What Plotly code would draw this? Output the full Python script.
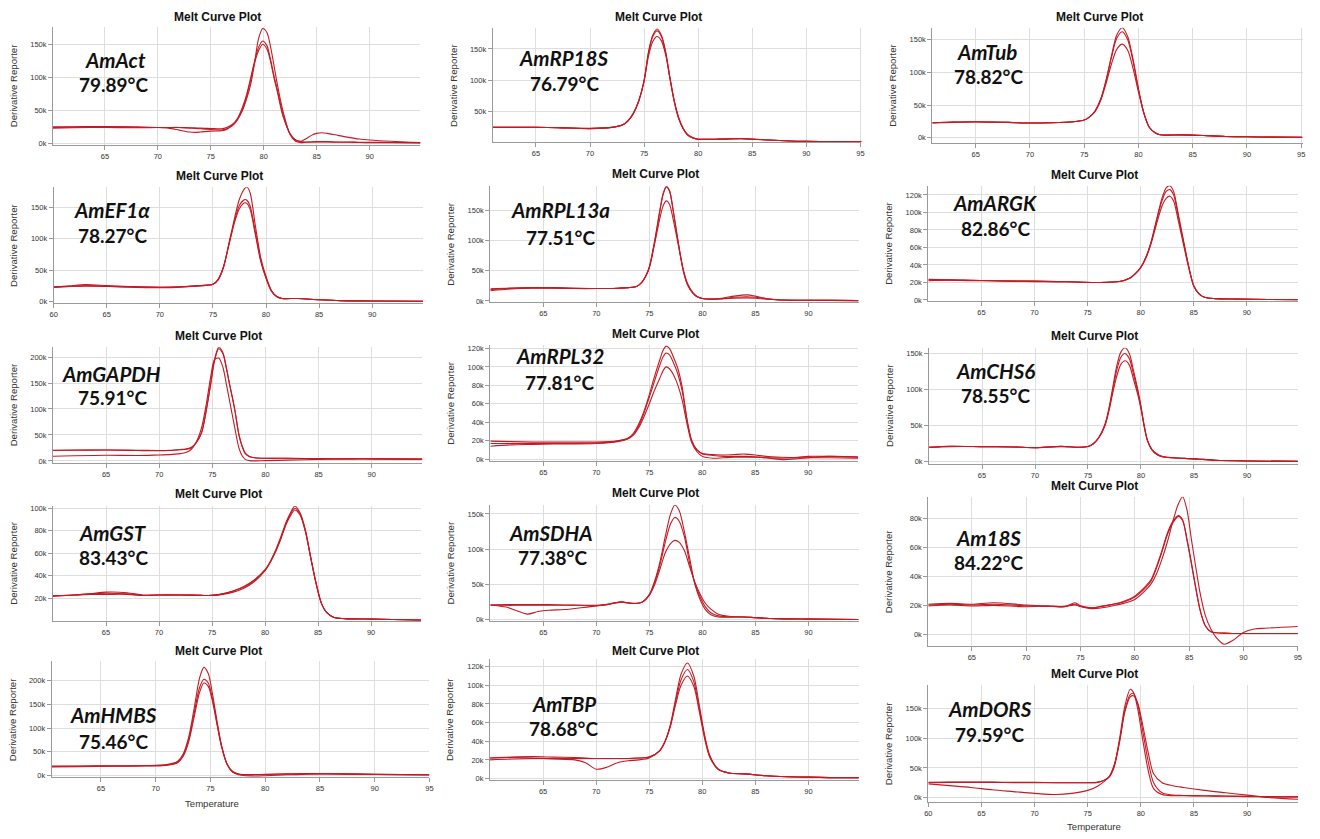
import plotly.graph_objects as go

W, H = 1320, 839

# ---------------- data (Derivative Reporter, thousands) ----------------
act_t = [60.1, 62, 65, 68, 70, 71, 72, 73, 73.5, 74, 75, 76, 76.5, 77, 77.5, 78, 78.4, 78.75, 79.1, 79.5, 79.9, 80.3, 80.6, 81, 81.3, 81.8, 82.5, 83, 83.5, 84, 84.5, 85, 85.5, 86, 87, 88, 89, 90, 92, 94.8]
act_a = [24, 24.5, 25, 24.5, 24, 24, 24, 23.5, 23.5, 23, 22.5, 22, 24, 28, 36, 50, 68, 88, 118, 158, 174, 168, 150, 115, 88, 50, 13, 3, 1, 1.5, 2, 2.5, 2.5, 2.5, 2, 2, 1.5, 1.5, 1.2, 1]
act_b = [25, 25, 25.5, 24.5, 24, 23, 20, 17, 16.5, 17, 18.5, 19, 21, 27, 37, 55, 75, 98, 122, 145, 155, 148, 130, 100, 80, 45, 14, 5, 3, 7, 12, 15, 16, 15, 12, 9, 6.5, 5, 3, 1]
act_c = [23, 23.5, 24, 23.5, 24, 24, 24, 23, 22.5, 22, 21, 20, 22, 26, 35, 52, 72, 95, 120, 140, 150, 143, 127, 97, 77, 42, 14, 5, 2.5, 2, 2, 2, 2, 2, 1.5, 1.5, 1.2, 1, 0.8, 0.5]

rp18_t = [61, 63, 65, 67, 70, 72, 73, 73.5, 74, 74.5, 75, 75.4, 75.8, 76.2, 76.6, 77, 77.4, 77.8, 78.2, 78.6, 79, 79.5, 80, 82, 84, 86, 88, 90, 95.1]
rp18_a = [24, 24, 24, 23.5, 22, 24, 28, 34, 46, 66, 100, 145, 172, 182, 172, 145, 103, 65, 38, 22, 12, 7, 5, 5, 6, 4, 2.5, 1.5, 1]
rp18_b = [24, 24, 24, 23.5, 22, 24, 28, 34, 46, 66, 99, 143, 170, 179, 170, 143, 101, 64, 38, 22, 12, 7, 5, 5, 6, 4, 2.5, 1.5, 1]
rp18_c = [24, 24, 24, 23.5, 22.5, 24, 28, 35, 47, 67, 98, 138, 162, 170, 163, 140, 102, 66, 40, 23, 13, 7.5, 5, 5, 5.5, 4, 2.5, 1.5, 1]

tub_t = [61, 63, 65, 68, 70, 72, 74, 75, 75.5, 76, 76.5, 77, 77.5, 78, 78.5, 79, 79.5, 80, 80.5, 81, 81.5, 82, 84, 86, 88, 90, 92, 95.1]
tub_a = [23, 24, 24.5, 23.5, 22.5, 23, 24.5, 27, 32, 41, 58, 87, 124, 157, 168, 155, 120, 75, 38, 16, 8, 4.5, 4.5, 3.5, 2, 1.5, 1, 0.8]
tub_b = [23, 24, 24.5, 23.5, 22.5, 23, 24.5, 27, 32, 41, 58, 86, 122, 152, 162, 150, 117, 74, 38, 16, 8, 4.5, 4.5, 3.5, 2, 1.5, 1, 0.8]
tub_c = [22.5, 23.5, 24, 23.5, 22.5, 23, 24.5, 27, 32, 40, 56, 82, 112, 135, 143, 134, 106, 70, 37, 16, 8, 4.5, 4.5, 3.5, 2, 1.5, 1, 0.8]

ef1_t = [60, 61.5, 63, 65, 67, 70, 72, 73.5, 75, 75.5, 76, 76.5, 77, 77.5, 78, 78.2, 78.5, 79, 79.5, 80, 80.5, 81, 81.5, 83, 85, 87, 90, 94.8]
ef1_a = [23, 24, 25, 24, 23.5, 23, 23.5, 25, 27.5, 35, 55, 92, 130, 163, 180, 182, 173, 120, 70, 40, 18, 8, 5, 5, 3, 1.5, 1, 0.5]
ef1_b = [23, 25, 27, 25.5, 24, 22.5, 23.5, 25, 27.5, 35, 55, 90, 126, 153, 162, 161, 152, 110, 66, 38, 17, 8, 5, 5, 3, 1.5, 1, 0.5]
ef1_c = [23, 24, 25, 24.5, 23, 22, 23, 25, 27.5, 36, 56, 90, 124, 148, 157, 156, 147, 106, 64, 37, 17, 8, 5, 5, 3, 1.5, 1, 0.5]

rpl13_t = [60, 62, 64, 66, 68, 70, 72, 73, 73.8, 74.3, 74.7, 75, 75.5, 76, 76.3, 76.6, 76.9, 77.25, 77.7, 78.2, 78.6, 79.1, 79.5, 80, 81, 82, 83, 84.2, 85, 86, 87, 89, 92, 94.7]
rpl13_a = [20, 21.5, 22, 21.5, 21, 20.5, 21, 22, 24, 31, 43, 57, 100, 152, 178, 190, 183, 150, 100, 50, 27, 13, 7, 4, 3, 4, 6, 7, 6, 3.5, 2, 1.2, 1, 0.5]
rpl13_b = [17, 20, 21, 21, 20.5, 20.5, 21, 22, 24, 31, 43, 56, 98, 150, 177, 189, 182, 149, 99, 50, 27, 13, 7, 4, 3, 5, 8, 10, 8, 4, 2, 1.2, 1, 0.5]
rpl13_c = [19, 21, 22, 22, 21, 20.5, 21, 22, 24, 31, 42, 55, 95, 138, 158, 166, 160, 135, 95, 52, 29, 14, 7.5, 4, 3, 3.5, 4.5, 5, 4.5, 3, 2, 1.2, 1, 0.5]

argk_t = [60, 62, 64, 66, 68, 70, 72, 74, 76, 78, 79, 79.5, 80, 80.5, 81, 81.5, 82, 82.4, 82.75, 83.1, 83.5, 84, 84.5, 85, 85.5, 86, 87, 89, 92, 94.8]
argk_a = [23.5, 23, 22.5, 22, 21.5, 21.5, 21, 20.5, 20, 21, 25, 30, 37, 49, 67, 92, 116, 128, 130.5, 124, 101, 70, 40, 16, 7, 3, 1.5, 1, 0.6, 0.3]
argk_b = [22.5, 23, 22.5, 22, 21.5, 21.5, 21, 20.5, 20, 21, 25, 30, 37, 49, 67, 91, 113, 124, 126, 120, 98, 68, 39, 16, 7, 3, 1.5, 1, 0.6, 0.3]
argk_c = [22, 22.5, 22, 22, 21.5, 21, 21, 20.5, 20, 21, 25, 30, 37, 48, 65, 87, 107, 116, 118.5, 113, 93, 65, 38, 16, 7, 3, 1.5, 1, 0.6, 0.3]

gapdh_t = [60, 62, 65, 68, 70, 71, 72, 72.5, 73, 73.5, 74, 74.45, 74.85, 75.2, 75.6, 76, 76.3, 76.6, 77.1, 77.5, 77.8, 78.1, 78.5, 79, 80, 82, 85, 88, 90, 94.8]
gapdh_a = [20, 20.5, 21, 20, 19.5, 20, 21.5, 22.5, 25, 35, 55, 100, 150, 195, 219, 208, 182, 150, 100, 50, 28, 14, 8, 6, 5, 5, 4.5, 4, 4, 3.5]
gapdh_b = [20.5, 21, 21, 20.5, 20, 20.5, 22, 23, 26, 36, 56, 100, 148, 192, 216, 206, 180, 150, 100, 51, 29, 15, 8.5, 6, 5, 5, 4.5, 4, 4, 3.5]
gapdh_c = [9, 10, 11, 10.5, 11.5, 12, 14, 16, 22, 37, 65, 112, 163, 195, 198, 180, 150, 118, 65, 25, 10, 3, 0.5, 0, 0.5, 1.5, 3, 3.5, 3.5, 3]

rpl32_t = [60, 62, 64, 66, 68, 70, 72, 73, 73.5, 74, 74.5, 75, 75.5, 76, 76.3, 76.6, 76.9, 77.3, 77.7, 78.1, 78.6, 79, 79.5, 80, 81, 82, 83, 84, 85, 86, 87.5, 89, 90, 92, 94.7]
rpl32_a = [19.5, 19, 18.5, 18.5, 18.5, 18.5, 20, 23, 28, 38, 52, 70, 90, 108, 118, 122.5, 120, 110, 98, 78, 40, 20, 10, 6, 5, 4.5, 5, 5.5, 4.5, 3, 2, 1.5, 1.5, 1.5, 1]
rpl32_b = [17, 17, 17, 17, 17, 17.5, 19.5, 22.5, 27, 36, 50, 67, 85, 102, 111, 115, 113, 104, 92, 74, 40, 20, 10, 6, 4, 3, 3, 3, 2.5, 1.5, -0.5, 0.5, 1.5, 3, 2]
rpl32_c = [14, 15.5, 16, 16.5, 16.5, 17, 19, 22, 26, 34, 46, 60, 75, 88, 96, 100, 98, 91, 80, 64, 36, 18, 8, 3, 1, 1.5, 2, 2, 2, 1.5, 1, 2, 3, 3, 2.5]

chs6_t = [60, 62, 65, 68, 70, 72.5, 74, 75, 75.5, 76, 76.6, 77, 77.3, 77.7, 78.1, 78.5, 78.9, 79.3, 79.7, 80, 80.3, 80.6, 81, 81.5, 82, 83, 85, 87, 90, 94.8]
chs6_a = [20, 21.5, 21, 20.5, 19.5, 21.5, 20, 21, 25, 33, 52, 76, 100, 132, 152, 158, 150, 126, 100, 77, 50, 30, 17, 10, 7, 5.5, 4, 2, 1, 0.5]
chs6_b = [20, 21.5, 21, 20.5, 19.5, 21.5, 20, 21, 25, 33, 51, 74, 97, 126, 145, 150, 143, 121, 97, 75, 50, 30, 17, 10, 7, 5.5, 4, 2, 1, 0.5]
chs6_c = [20, 21, 21, 20.5, 19.5, 21, 20, 21, 25, 33, 50, 72, 93, 118, 135, 140, 134, 114, 93, 73, 49, 30, 18, 11, 7.5, 5.5, 4, 2, 1, 0.5]

gst_t = [60, 62, 63.5, 65, 67, 68.5, 70, 72, 74, 75, 76, 77, 78, 79, 80, 80.5, 81, 81.5, 82, 82.4, 82.8, 83.3, 83.8, 84.3, 84.8, 85.3, 85.8, 86.5, 87.5, 90, 92, 94.7]
gst_a = [22, 23, 24, 25.5, 25, 23, 23, 23, 22.6, 22.6, 24, 26.5, 30.5, 36.5, 45.5, 53, 63, 75, 88, 96, 102, 96, 81, 57, 34, 16, 7.5, 3, 2, 1.5, 1.2, 0.6]
gst_b = [22, 23, 23.5, 23.5, 23.5, 22.5, 23, 23, 22.6, 22.6, 24, 26.5, 30, 36, 45, 52.5, 62, 74, 87, 95, 100, 95, 80, 56.5, 34, 16, 7.5, 3, 2, 1.5, 1.2, 0.6]
gst_c = [22.5, 23, 24, 24.5, 24, 22.5, 23, 23, 22.6, 22.6, 23.5, 25.5, 29, 35, 44.5, 52, 61.5, 73, 86, 93.5, 98.5, 94, 79.5, 56, 33.5, 16, 7.5, 3, 2, 1.5, 1.2, 0.6]

sdha_t = [60, 61.5, 62.5, 63.5, 64.5, 65.5, 67, 68.5, 70, 71, 72.3, 73.5, 74.3, 75, 75.5, 76, 76.5, 77, 77.4, 77.8, 78.3, 78.8, 79.3, 79.8, 80.3, 80.8, 81.5, 82.5, 84, 85, 87, 90, 94.7]
sdha_a = [21, 21.5, 21.5, 21.5, 21.5, 21.5, 21, 20.5, 20, 21.5, 25.5, 23, 25, 36, 55, 82, 118, 150, 162.5, 155, 125, 87, 50, 28, 14, 7, 4, 3.7, 4, 3, 1.6, 1, 0.5]
sdha_b = [21, 20.5, 20.5, 20.5, 20.5, 20.5, 20.5, 20.5, 20.5, 21.5, 25, 23, 25, 35, 53, 78, 110, 136, 145, 140, 118, 80, 51, 32, 18, 10, 5.5, 4, 4, 3, 1.6, 1, 0.5]
sdha_c = [21, 18, 12.7, 8, 11.7, 13.6, 14.5, 17, 19.7, 22, 25, 23.5, 25, 35, 50, 72, 95, 108, 112.5, 110, 98, 75, 53, 36, 23, 15, 8, 5, 4, 3, 1.6, 1, 0.5]

s18_t = [61, 63, 65, 67, 70, 72, 73.5, 74.5, 75, 76, 77, 78, 79, 80, 81, 81.5, 82, 82.5, 83, 83.5, 84, 84.4, 84.8, 85.2, 85.6, 86, 86.5, 87, 87.5, 88.2, 89, 90, 91, 92, 95]
s18_a = [20.5, 21, 20.5, 21, 20, 19.5, 19.5, 21, 19.5, 18, 18.6, 20, 21.6, 24.3, 30.7, 35, 42, 52, 64, 78, 90, 95, 86, 66, 47, 29, 13, 3.9, -2, -6.5, -4, 1.6, 3.9, 4.5, 5.7]
s18_b = [21, 21.6, 21, 22, 20.5, 19.8, 19.3, 22, 20, 18.5, 19.8, 21, 23, 26.6, 33.4, 38, 47, 58, 70, 78, 82, 79, 66, 50, 33, 17.5, 6, 2, 1.4, 1.1, 0.9, 0.9, 0.9, 0.9, 0.9]
s18_c = [19.8, 20.5, 19.8, 20.2, 19.3, 19.8, 19.3, 20.5, 19.5, 18.5, 19.5, 21, 22.5, 26, 32.5, 37, 46, 57, 69, 77, 81.5, 78.5, 65, 49, 32, 17, 6, 2, 1.4, 1.1, 0.9, 0.9, 0.9, 0.9, 0.9]

hmbs_t = [60.5, 63, 66, 69, 71, 72, 72.5, 73, 73.5, 74, 74.4, 74.8, 75.2, 75.6, 76, 76.5, 77, 77.5, 78, 79, 80, 82, 84, 87, 90, 95]
hmbs_a = [20, 20, 20.5, 21, 23, 30, 45, 80, 140, 205, 228, 215, 170, 115, 65, 25, 8, 2, 0, -1, -0.5, 1.5, 3, 3, 2, 1]
hmbs_b = [19, 19.5, 20, 20.5, 22, 28, 42, 75, 130, 185, 203, 195, 160, 110, 63, 25, 8, 3, 1.5, 1.5, 2, 3, 4, 3.5, 2.5, 1.5]
hmbs_c = [18, 18.5, 19.5, 20, 21.5, 27, 40, 70, 122, 175, 195, 188, 155, 108, 62, 25, 9, 3.5, 2, 2, 2.5, 3.5, 4, 3.5, 2.5, 1.5]

tbp_t = [60, 62, 64, 66, 68, 69, 70, 71, 72, 73, 74, 75, 76, 76.5, 77, 77.5, 78, 78.6, 79.2, 79.7, 80.2, 80.7, 81.5, 82.5, 84, 86, 88, 90, 92, 94.75]
tbp_a = [22, 22.5, 22, 21, 20, 17, 10, 12, 17, 19, 20, 22, 30, 40, 58, 86, 112, 124, 110, 80, 48, 25, 10, 6, 5, 3, 2, 1.5, 1, 1]
tbp_b = [20, 21, 21.5, 21.5, 21.5, 21.5, 21.5, 21.5, 21.5, 21.5, 22, 23, 30, 40, 57, 83, 106, 117, 104, 76, 46, 24, 10, 6, 5, 3, 2, 1.5, 1, 1]
tbp_c = [22, 23, 23.5, 23, 22.5, 22, 21.5, 21.5, 21.5, 21.5, 22, 23, 30, 40, 56, 80, 100, 110, 99, 73, 44, 23, 10, 6, 5, 3, 2, 1.5, 1, 1]

dors_t = [60, 62, 64, 66, 68, 70, 72, 73.5, 75, 76, 77, 77.5, 78, 78.5, 79, 79.3, 79.7, 80.2, 80.7, 81.2, 82, 83, 84, 86, 88, 90, 92, 94.8]
dors_a = [25, 25.5, 25.5, 25.5, 25, 25, 25, 25, 25, 26, 35, 55, 100, 155, 183, 178, 150, 95, 45, 15, 5, 3, 3, 2.5, 2, 1.5, 1, 1]
dors_b = [25.5, 26, 26, 26, 25.5, 25.5, 25, 25, 25, 26, 34, 52, 95, 148, 174, 176, 158, 110, 60, 25, 8, 4, 3.5, 3, 2.5, 2, 1.5, 1]
dors_c = [23, 20, 17, 13, 10, 7, 5, 7, 12, 20, 35, 55, 95, 145, 170, 172, 160, 120, 75, 40, 25, 20, 17, 12, 8, 4, 0, -3]

genes = ["AmAct", "AmRP18S", "AmTub", "AmEF1α", "AmRPL13a", "AmARGK", "AmGAPDH", "AmRPL32",
         "AmCHS6", "AmGST", "AmSDHA", "Am18S", "AmHMBS", "AmTBP", "AmDORS"]
tms = ["79.89°C", "76.79°C", "78.82°C", "78.27°C", "77.51°C", "82.86°C", "75.91°C", "77.81°C",
       "78.55°C", "83.43°C", "77.38°C", "84.22°C", "75.46°C", "78.68°C", "79.59°C"]
temps = [act_t, rp18_t, tub_t, ef1_t, rpl13_t, argk_t, gapdh_t, rpl32_t, chs6_t, gst_t, sdha_t, s18_t, hmbs_t, tbp_t, dors_t]
curves = [[act_a, act_b, act_c], [rp18_a, rp18_b, rp18_c], [tub_a, tub_b, tub_c], [ef1_a, ef1_b, ef1_c],
          [rpl13_a, rpl13_b, rpl13_c], [argk_a, argk_b, argk_c], [gapdh_a, gapdh_b, gapdh_c],
          [rpl32_a, rpl32_b, rpl32_c], [chs6_a, chs6_b, chs6_c], [gst_a, gst_b, gst_c],
          [sdha_a, sdha_b, sdha_c], [s18_a, s18_b, s18_c], [hmbs_a, hmbs_b, hmbs_c],
          [tbp_a, tbp_b, tbp_c], [dors_a, dors_b, dors_c]]

# ---------------- layout of each panel (pixels) ----------------
X6 = [65, 70, 75, 80, 85, 90]
X7 = [65, 70, 75, 80, 85, 90, 95]
X60 = [60, 65, 70, 75, 80, 85, 90]
Y50 = [0, 50, 100, 150]
Y20 = [0, 20, 40, 60, 80, 100, 120]
panels = [
    dict(box=(49.3, 25, 419, 144.3), xr=[60.1, 94.8], yr=[-3, 176.5], xt=X6, yt=Y50, title=(215, 15), g=(111.7, 58.3), tm=(110, 83.3)),
    dict(box=(491.7, 26, 862.7, 141.3), xr=[61, 95.1], yr=[0, 184], xt=X7, yt=[50, 100, 150], title=(658, 15), g=(563.3, 56.7), tm=(564, 81.7)),
    dict(box=(934, 26, 1306.7, 141.7), xr=[61, 95.15], yr=[-7.5, 168], xt=X7, yt=Y50, title=(1101.7, 15), g=(989.3, 50), tm=(990, 75)),
    dict(box=(50, 186.7, 421.7, 302.7), xr=[60, 94.8], yr=[-1.5, 181.5], xt=X60, yt=Y50, title=(216.7, 175.7), g=(108.3, 209.3), tm=(109.3, 235)),
    dict(box=(489.3, 185.7, 860, 302), xr=[60, 94.75], yr=[-1.5, 190], xt=X6, yt=Y50, title=(655.7, 173.5), g=(560, 210), tm=(560, 236.7)),
    dict(box=(930, 185, 1301.7, 301), xr=[60, 94.8], yr=[-1, 130.5], xt=X6, yt=Y20, title=(1096.7, 174), g=(996.7, 202.3), tm=(997.3, 228.3)),
    dict(box=(49.3, 347.7, 420.7, 464.3), xr=[60, 94.75], yr=[-4, 219], xt=X6, yt=[0, 50, 100, 150, 200], title=(216, 336.7), g=(108.3, 374.3), tm=(109.3, 398.3)),
    dict(box=(489.3, 345.7, 859.3, 462.3), xr=[60, 94.7], yr=[-2, 123.5], xt=X6, yt=Y20, title=(655.7, 334.3), g=(559.3, 356.7), tm=(559.3, 383.3)),
    dict(box=(930.7, 348.3, 1301.7, 465), xr=[60, 94.8], yr=[-2.7, 158], xt=X6, yt=Y50, title=(1097, 336.7), g=(997.3, 371.7), tm=(997.3, 396.7)),
    dict(box=(49.3, 507.7, 420, 623.3), xr=[60, 94.75], yr=[0, 102], xt=X6, yt=[20, 40, 60, 80, 100], title=(216, 496), g=(110, 535), tm=(110, 559)),
    dict(box=(489.3, 506.7, 860, 623.3), xr=[60, 94.75], yr=[-1.5, 162.5], xt=X6, yt=Y50, title=(655.7, 495), g=(550.7, 535), tm=(551.7, 560)),
    dict(box=(930, 498.3, 1301.7, 649), xr=[61, 95], yr=[-8, 95], xt=X7, yt=[0, 20, 40, 60, 80], title=(1097, 487), g=(990, 540), tm=(990, 565)),
    dict(box=(48, 664, 428, 781), xr=[60.5, 95], yr=[-4, 241], xt=X7, yt=[0, 50, 100, 150, 200], title=(216, 654), g=(110, 718), tm=(110, 745)),
    dict(box=(489, 662, 860, 784), xr=[60, 94.75], yr=[-2, 128], xt=X6, yt=Y20, title=(655.7, 654), g=(563, 707), tm=(563, 732)),
    dict(box=(930, 688, 1302, 806), xr=[60, 94.8], yr=[-8, 190], xt=X60, yt=Y50, title=(1097, 677), g=(992, 712), tm=(992, 738)),
]

RED = "#c41a24"
GRID = "#dedede"
AX = "#9a9a9a"
TICKF = dict(family="Liberation Sans, Arial, sans-serif", size=7.5, color="#333")

fig = go.Figure()
layout = dict(width=W, height=H, margin=dict(l=0, r=0, t=0, b=0), paper_bgcolor="white",
              plot_bgcolor="white", showlegend=False, annotations=[])

def px(x):
    return x / W

def py(y):
    return 1 - y / H

for i, p in enumerate(panels, start=1):
    sfx = "" if i == 1 else str(i)
    for ys in curves[i - 1]:
        fig.add_trace(go.Scatter(x=temps[i - 1], y=ys, mode="lines",
                                 line=dict(color=RED, width=1.1, shape="spline", smoothing=0.8),
                                 xaxis="x" + sfx, yaxis="y" + sfx, hoverinfo="skip"))
    L, T, R, B = p["box"]
    layout["xaxis" + sfx] = dict(domain=[px(L), px(R)], anchor="y" + sfx, range=p["xr"],
                                 tickvals=p["xt"], ticktext=[str(v) for v in p["xt"]],
                                 showgrid=True, gridcolor=GRID, gridwidth=1,
                                 showline=True, linecolor=AX, linewidth=1, ticks="outside",
                                 ticklen=4, tickcolor=AX, tickfont=TICKF, zeroline=False)
    layout["yaxis" + sfx] = dict(domain=[py(B), py(T)], anchor="x" + sfx, range=p["yr"],
                                 tickvals=p["yt"], ticktext=[f"{v}k" for v in p["yt"]],
                                 showgrid=True, gridcolor=GRID,
                                 gridwidth=1, showline=True, linecolor=AX, linewidth=1,
                                 ticks="outside", ticklen=4, tickcolor=AX, tickfont=TICKF,
                                 zeroline=False)
    ann = layout["annotations"]
    tx, ty = p["title"]
    ann.append(dict(text="<b>Melt Curve Plot</b>", x=px(tx), y=py(ty), xref="paper", yref="paper",
                    showarrow=False, xanchor="center", yanchor="middle",
                    font=dict(family="Liberation Sans, Arial, sans-serif", size=12, color="#111")))
    ann.append(dict(text="Derivative Reporter", x=px(L - 40), y=py((T + B) / 2), xref="paper",
                    yref="paper", showarrow=False, textangle=-90, xanchor="center",
                    yanchor="middle",
                    font=dict(family="Liberation Sans, Arial, sans-serif", size=9.6, color="#333")))
    gx, gy = p["g"]
    ann.append(dict(text="<b><i>" + genes[i - 1] + "</i></b>", x=px(gx), y=py(gy), xref="paper",
                    yref="paper", showarrow=False, xanchor="center", yanchor="middle",
                    font=dict(family="Lato, Open Sans, sans-serif", size=20.5, color="#111")))
    mx, my = p["tm"]
    ann.append(dict(text="<b>" + tms[i - 1] + "</b>", x=px(mx), y=py(my), xref="paper",
                    yref="paper", showarrow=False, xanchor="center", yanchor="middle",
                    font=dict(family="Lato, Open Sans, sans-serif", size=19, color="#111")))

for (tx, ty) in [(209, 807), (1097, 830)]:
    layout["annotations"].append(dict(text="Temperature", x=px(tx), y=py(ty), xref="paper",
                                      yref="paper", showarrow=False, xanchor="center",
                                      yanchor="middle",
                                      font=dict(family="Liberation Sans, Arial, sans-serif",
                                                size=9.6, color="#333")))

fig.update_layout(**layout)
fig.write_html("out.html", config={"displayModeBar": False},
               post_script="document.body.style.margin='0';document.body.style.overflow='hidden';")
